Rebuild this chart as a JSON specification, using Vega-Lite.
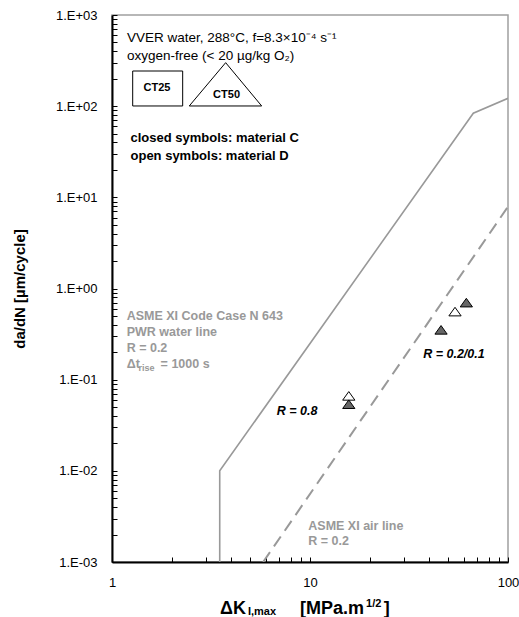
{
  "$schema": "https://vega.github.io/schema/vega-lite/v6.json",
  "width": 396,
  "height": 547,
  "autosize": {"type": "none"},
  "padding": {"left": 112, "top": 15, "right": 11, "bottom": 55},
  "config": {
    "font": "Liberation Sans",
    "view": {"stroke": "#a0a0a0", "strokeWidth": 1.5}
  },
  "datasets": {
    "pwr": [
      {"x": 3.5, "y": 0.001, "o": 0},
      {"x": 3.5, "y": 0.01, "o": 1},
      {"x": 66.8, "y": 83.6, "o": 2},
      {"x": 100, "y": 122, "o": 3}
    ],
    "air": [
      {"x": 5.8, "y": 0.001, "o": 0},
      {"x": 100, "y": 7.9, "o": 1}
    ],
    "pts": [
      {"x": 15.7, "y": 0.0664, "material": "D"},
      {"x": 15.7, "y": 0.0538, "material": "C"},
      {"x": 45.9, "y": 0.352, "material": "C"},
      {"x": 54.0, "y": 0.558, "material": "D"},
      {"x": 61.6, "y": 0.70, "material": "C"}
    ],
    "box": [{"x": 1.272, "x2": 2.275, "y": 100.5, "y2": 243}],
    "tri": [
      {"x": 2.456, "y": 100.5, "o": 0},
      {"x": 3.75, "y": 300, "o": 1},
      {"x": 5.70, "y": 100.5, "o": 2},
      {"x": 2.456, "y": 100.5, "o": 3}
    ],
    "ct": [
      {"x": 1.687, "y": 158, "t": "CT25"},
      {"x": 3.79, "y": 133, "t": "CT50"}
    ],
    "hdr": [
      {"x": 1.19, "y": 501, "t": "VVER water, 288°C, f=8.3×10⁻⁴ s⁻¹"},
      {"x": 1.19, "y": 317, "t": "oxygen-free (< 20 µg/kg  O₂)"}
    ],
    "bold": [
      {"x": 1.24, "y": 40, "t": "closed symbols: material C"},
      {"x": 1.24, "y": 25.7, "t": "open symbols: material D"}
    ],
    "gray": [
      {"x": 1.186, "y": 0.453, "t": "ASME XI Code Case N 643"},
      {"x": 1.186, "y": 0.302, "t": "PWR water line"},
      {"x": 1.186, "y": 0.2033, "t": "R = 0.2"},
      {"x": 1.186, "y": 0.1336, "t": "Δt"},
      {"x": 1.76, "y": 0.1336, "t": "= 1000 s"},
      {"x": 9.8, "y": 0.002254, "t": "ASME XI air line"},
      {"x": 9.8, "y": 0.001545, "t": "R = 0.2"}
    ],
    "graysub": [{"x": 1.36, "y": 0.1336, "t": "rise"}],
    "ital": [
      {"x": 6.79, "y": 0.0411, "t": "R = 0.8"},
      {"x": 37.3, "y": 0.172, "t": "R = 0.2/0.1"}
    ],
    "xt": [
      {"x": 3.51, "y": 0.001, "t": "ΔK"},
      {"x": 8.9, "y": 0.001, "t": "[MPa.m"},
      {"x": 23.6, "y": 0.001, "t": "]"}
    ],
    "xtsub": [{"x": 4.86, "y": 0.001, "t": "I,max"}],
    "xtsup": [{"x": 19.2, "y": 0.001, "t": "1/2"}]
  },
  "encoding": {
    "x": {
      "field": "x",
      "type": "quantitative",
      "scale": {"type": "log", "domain": [1, 100], "nice": false},
      "axis": null
    },
    "y": {
      "field": "y",
      "type": "quantitative",
      "scale": {"type": "log", "domain": [0.001, 1000], "nice": false},
      "axis": null
    }
  },
  "resolve": {"axis": {"x": "independent", "y": "independent"}},
  "layer": [
    {
      "data": {"name": "pwr"},
      "mark": {"type": "line", "color": "#999999", "strokeWidth": 1.6, "clip": true},
      "encoding": {
        "order": {"field": "o", "type": "quantitative"},
        "x": {
          "field": "x",
          "type": "quantitative",
          "scale": {"type": "log", "domain": [1, 100], "nice": false},
          "axis": {
            "orient": "bottom",
            "title": null,
            "values": [1, 10, 100],
            "labelExpr": "'' + datum.value",
            "grid": false,
            "ticks": false,
            "domainColor": "black",
            "domainWidth": 2,
            "labelPadding": 14,
            "labelFontSize": 13,
            "labelColor": "black",
            "labelOverlap": false,
            "labelFlush": false,
            "labelBound": false
          }
        },
        "y": {
          "field": "y",
          "type": "quantitative",
          "scale": {"type": "log", "domain": [0.001, 1000], "nice": false},
          "axis": {
            "orient": "left",
            "title": "da/dN [µm/cycle]",
            "titleFontSize": 15,
            "titleFontWeight": "bold",
            "titleColor": "black",
            "titlePadding": 28,
            "values": [0.001, 0.01, 0.1, 1, 10, 100, 1000],
            "labelExpr": "'1.E' + (datum.value < 1 ? '-' : '+') + '0' + abs(round(log(datum.value)/LN10))",
            "grid": false,
            "ticks": false,
            "domainColor": "black",
            "domainWidth": 2,
            "labelPadding": 15,
            "labelFontSize": 13,
            "labelColor": "black",
            "labelOverlap": false,
            "labelFlush": false,
            "labelBound": false
          }
        }
      }
    },
    {
      "data": {"name": "pts"},
      "mark": {"type": "point", "opacity": 0},
      "encoding": {
        "x": {
          "field": "x",
          "type": "quantitative",
          "scale": {"type": "log", "domain": [1, 100], "nice": false},
          "axis": {
            "orient": "top",
            "offset": -547,
            "title": null,
            "labels": false,
            "domain": false,
            "grid": false,
            "ticks": true,
            "tickSize": 5,
            "tickWidth": 1,
            "tickColor": "black",
            "values": [1, 2, 3, 4, 5, 6, 7, 8, 9, 10, 20, 30, 40, 50, 60, 70, 80, 90, 100]
          }
        },
        "y": {
          "field": "y",
          "type": "quantitative",
          "scale": {"type": "log", "domain": [0.001, 1000], "nice": false},
          "axis": {
            "orient": "right",
            "offset": -396,
            "title": null,
            "labels": false,
            "domain": false,
            "grid": false,
            "ticks": true,
            "tickSize": 5,
            "tickWidth": 1,
            "tickColor": "black",
            "values": [0.001, 0.002, 0.003, 0.004, 0.005, 0.006, 0.007, 0.008, 0.009,
                       0.01, 0.02, 0.03, 0.04, 0.05, 0.06, 0.07, 0.08, 0.09,
                       0.1, 0.2, 0.3, 0.4, 0.5, 0.6, 0.7, 0.8, 0.9,
                       1, 2, 3, 4, 5, 6, 7, 8, 9,
                       10, 20, 30, 40, 50, 60, 70, 80, 90,
                       100, 200, 300, 400, 500, 600, 700, 800, 900, 1000]
          }
        }
      }
    },
    {
      "data": {"name": "air"},
      "mark": {"type": "line", "color": "#999999", "strokeWidth": 2, "strokeDash": [12, 7], "clip": true},
      "encoding": {"order": {"field": "o", "type": "quantitative"}}
    },
    {
      "data": {"name": "box"},
      "mark": {"type": "rect", "fill": "white", "stroke": "black", "strokeWidth": 1},
      "encoding": {"x2": {"field": "x2"}, "y2": {"field": "y2"}}
    },
    {
      "data": {"name": "tri"},
      "mark": {"type": "line", "color": "black", "strokeWidth": 1},
      "encoding": {"order": {"field": "o", "type": "quantitative"}}
    },
    {
      "data": {"name": "ct"},
      "mark": {"type": "text", "fontSize": 11, "fontWeight": "bold", "align": "center", "baseline": "middle", "color": "black"},
      "encoding": {"text": {"field": "t"}}
    },
    {
      "data": {"name": "pts"},
      "mark": {"type": "point", "shape": "M0,-0.7L1,0.7L-1,0.7Z", "size": 150, "filled": true, "stroke": "black", "strokeWidth": 1, "opacity": 1},
      "encoding": {
        "fill": {
          "field": "material",
          "type": "nominal",
          "scale": {"domain": ["C", "D"], "range": ["#666666", "white"]},
          "legend": null
        }
      }
    },
    {
      "data": {"name": "hdr"},
      "mark": {"type": "text", "fontSize": 13.5, "align": "left", "baseline": "alphabetic", "color": "black"},
      "encoding": {"text": {"field": "t"}}
    },
    {
      "data": {"name": "bold"},
      "mark": {"type": "text", "fontSize": 13, "fontWeight": "bold", "align": "left", "baseline": "alphabetic", "color": "black"},
      "encoding": {"text": {"field": "t"}}
    },
    {
      "data": {"name": "gray"},
      "mark": {"type": "text", "fontSize": 12.5, "fontWeight": "bold", "align": "left", "baseline": "alphabetic", "color": "#999999"},
      "encoding": {"text": {"field": "t"}}
    },
    {
      "data": {"name": "graysub"},
      "mark": {"type": "text", "fontSize": 9, "fontWeight": "bold", "align": "left", "baseline": "alphabetic", "dy": 3, "color": "#999999"},
      "encoding": {"text": {"field": "t"}}
    },
    {
      "data": {"name": "ital"},
      "mark": {"type": "text", "fontSize": 12.5, "fontWeight": "bold", "fontStyle": "italic", "align": "left", "baseline": "alphabetic", "color": "black"},
      "encoding": {"text": {"field": "t"}}
    },
    {
      "data": {"name": "xt"},
      "mark": {"type": "text", "fontSize": 18, "fontWeight": "bold", "align": "left", "baseline": "alphabetic", "dy": 52, "color": "black"},
      "encoding": {"text": {"field": "t"}}
    },
    {
      "data": {"name": "xtsub"},
      "mark": {"type": "text", "fontSize": 11, "fontWeight": "bold", "align": "left", "baseline": "alphabetic", "dy": 53, "color": "black"},
      "encoding": {"text": {"field": "t"}}
    },
    {
      "data": {"name": "xtsup"},
      "mark": {"type": "text", "fontSize": 11, "fontWeight": "bold", "align": "left", "baseline": "alphabetic", "dy": 45, "color": "black"},
      "encoding": {"text": {"field": "t"}}
    }
  ]
}
